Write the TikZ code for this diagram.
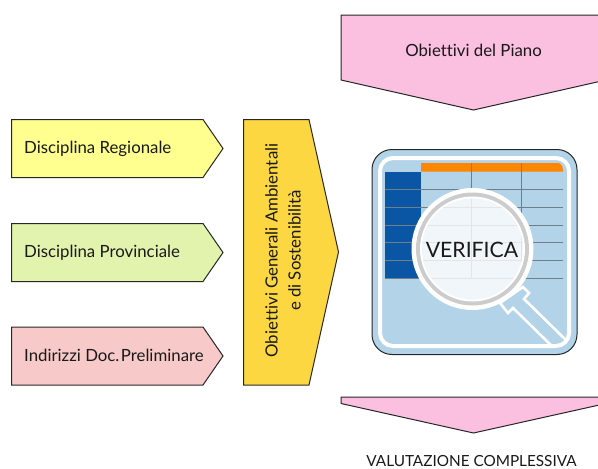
\documentclass[tikz,border=0pt]{standalone}
\usepackage{fontspec}
\setmainfont{Lato}[Ligatures=NoCommon]
\definecolor{pinkA}{HTML}{FBBFE0}
\definecolor{yelA}{HTML}{FFFF8F}
\definecolor{grnA}{HTML}{E2F3AE}
\definecolor{redA}{HTML}{F8C9C9}
\definecolor{golA}{HTML}{FCD741}
\definecolor{bluA}{HTML}{B3D3E8}
\definecolor{bluB}{HTML}{0B56A4}
\definecolor{oraA}{HTML}{FF8600}
\definecolor{lineA}{HTML}{6F7F8A}
\tikzset{
  shapeline/.style={draw=black!85,line width=1pt,line join=miter},
  lab/.style={inner sep=0pt,font=\fontsize{16.8}{23}\selectfont,text=black!90},
}
\begin{document}
\begin{tikzpicture}[x=1pt,y=-1pt]
\useasboundingbox (0,0) rectangle (598,469);
\clip (0,0) rectangle (598,469);
% left arrows
\draw[shapeline,fill=yelA] (11.5,119.5) -- (203,119.5) -- (223,148.5) -- (203,177.5) -- (11.5,177.5) -- cycle;
\draw[shapeline,fill=grnA] (11.5,223.5) -- (203,223.5) -- (223,252.5) -- (203,281.5) -- (11.5,281.5) -- cycle;
\draw[shapeline,fill=redA] (11.5,327) -- (203,327) -- (223,356) -- (203,385) -- (11.5,385) -- cycle;
\node[lab,anchor=base west] (reg) at (24,153.5) {Disciplina Regionale};
\node[lab,anchor=base west] (pro) at (24,257.5) {Disciplina Provinciale};
\node[lab,anchor=base west] (ind) at (24,361) {Indirizzi Doc.\hspace{1.5pt}Preliminare};
% central
\draw[shapeline,fill=golA] (243.5,119.5) -- (309,119.5) -- (338.5,252) -- (309,385) -- (243.5,385) -- cycle;
\node[lab,rotate=90,align=center] (obg) at (283,250.5) {Obiettivi Generali Ambientali\\e di Sostenibilità};
% top and bottom
\draw[shapeline,fill=pinkA] (341,15) -- (606,15) -- (606,80) -- (473.5,110) -- (341,80) -- cycle;
\node[lab,anchor=base] (pia) at (473.5,56.5) {Obiettivi del Piano};
\draw[shapeline,fill=pinkA] (341,397) -- (606,397) -- (606,403.5) -- (473.5,433) -- (341,403.5) -- cycle;
\node[lab,anchor=base,font=\fontsize{15.3}{18}\selectfont] (val) at (471.5,466) {VALUTAZIONE COMPLESSIVA};
% icon
\draw[black!85,line width=1pt,fill=bluA,rounded corners=20pt] (372,149.5) rectangle (577,354.5);
\fill[oraA] (421,163) -- (558,163) .. controls (561,163) and (563,166) .. (563,171.5) -- (421,171.5) -- cycle;
\fill[bluB] (384.5,171.5) rectangle (421,278);
\foreach \yy in {189,207,225,242,260,278}
  \draw[lineA,line width=0.7pt] (384.5,\yy) -- (563,\yy);
\foreach \xx in {471.5,521.5}
  \draw[lineA,line width=0.7pt] (\xx,163) -- (\xx,278);
% magnifier handle
\begin{scope}
\clip[rounded corners=13pt] (380,158) rectangle (569,346);
\draw[white,line width=2.6pt,line join=miter,fill=bluA] (523,287) -- (529,293) -- (524,299) -- (570,344) -- (558,352) -- (513,308) -- (508,313) -- (500,303) -- cycle;
\end{scope}
\draw[white,line width=4pt,rounded corners=13pt] (380,158) rectangle (569,346);
% lens
\fill[white] (472.5,249) circle (61pt);
\fill[black!20] (472.5,249) circle (56.5pt);
\fill[white] (472.5,249) circle (52.5pt);
\begin{scope}
\clip (472.5,249) circle (50.5pt);
\fill[bluA!20!white] (420,195) rectangle (530,305);
\foreach \yy in {207,225,242,260,278}
  \draw[black!10,line width=0.7pt] (420,\yy) -- (530,\yy);
\foreach \xx in {471.5,521.5}
  \draw[black!10,line width=0.7pt] (\xx,195) -- (\xx,278);
\end{scope}
\node[inner sep=0pt,anchor=base,font=\fontsize{21.2}{24}\selectfont,text=black!90] (ver) at (472,257.5) {VERIFICA};
\end{tikzpicture}
\end{document}
